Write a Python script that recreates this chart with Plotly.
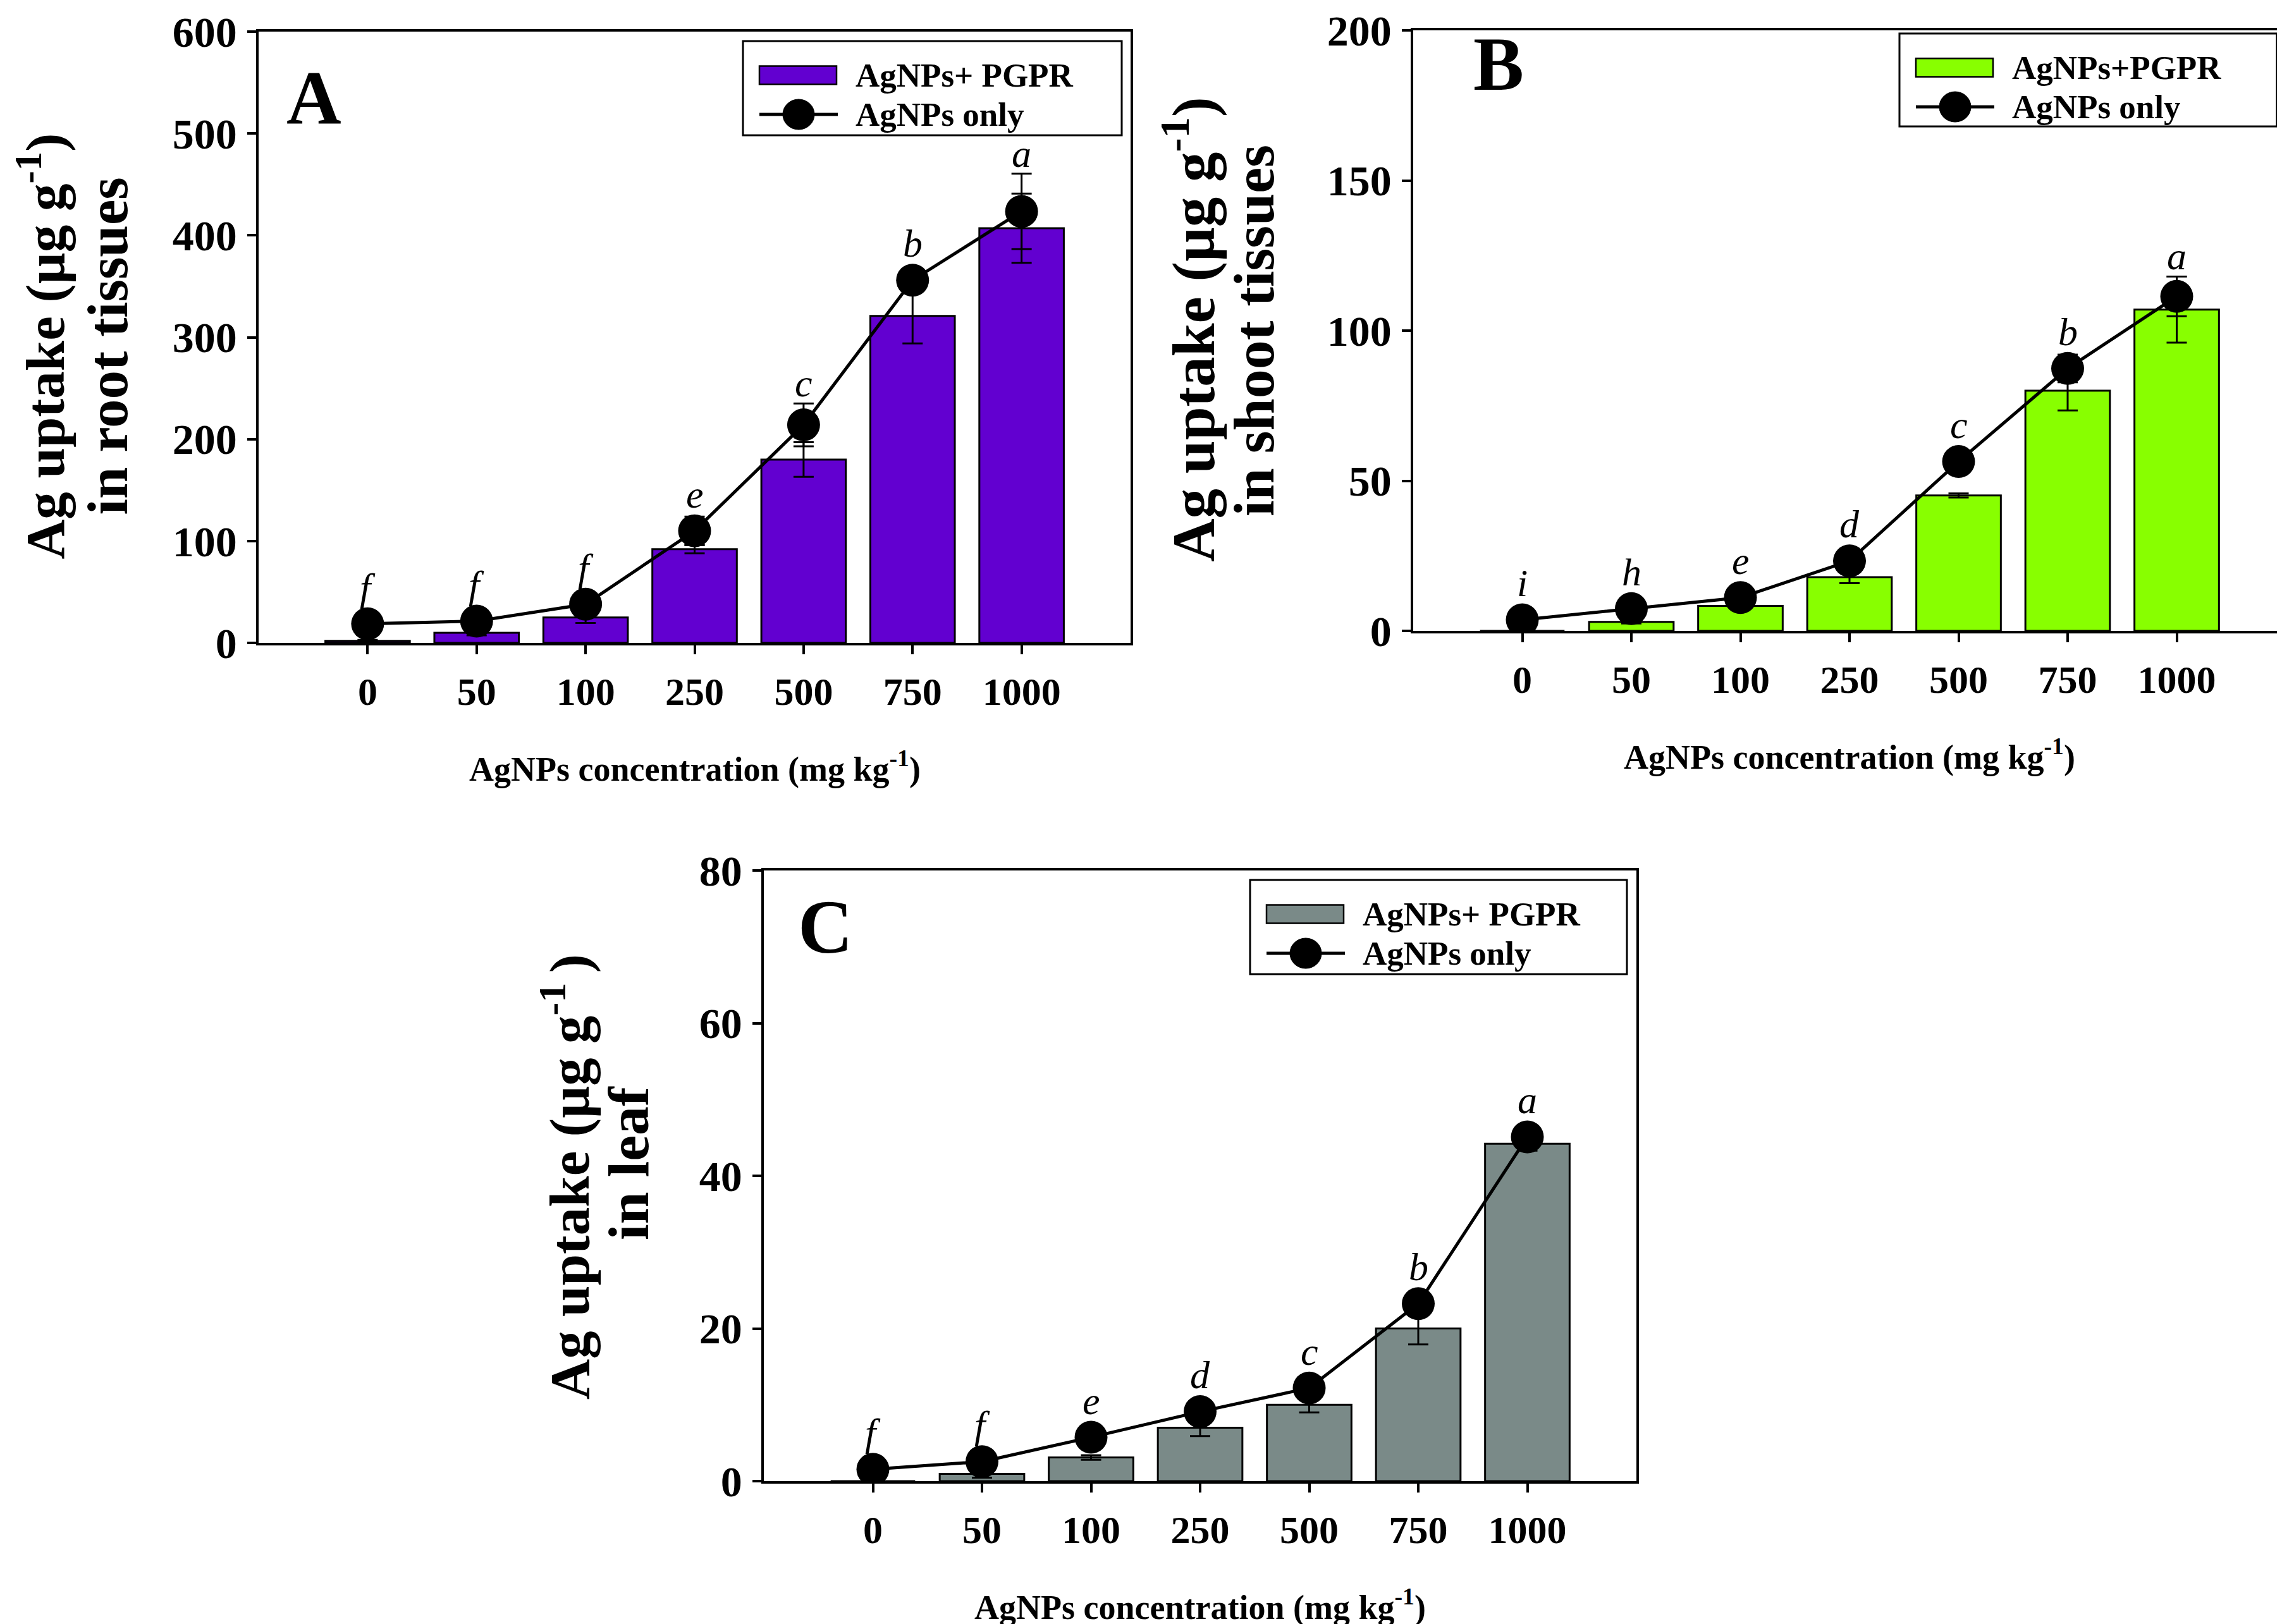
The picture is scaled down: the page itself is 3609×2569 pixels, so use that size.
import plotly.graph_objects as go

# ---------------- data ----------------
categories = ["0", "50", "100", "250", "500", "750", "1000"]

root_pgpr = [2, 10, 25, 92, 180, 321, 407]
root_pgpr_err = [1, 2.5, 5.4, 4, 17, 27, 34]
root_only = [18.7, 21.4, 38, 110, 214, 356, 423.5]
root_only_err = [3, 4, 6, 14, 21, 10, 37]
root_letters = ["f", "f", "f", "e", "c", "b", "a"]

shoot_pgpr = [0, 3.0, 8.3, 17.9, 45.1, 80, 107]
shoot_pgpr_err = [0, 0.5, 0.4, 2.0, 0.7, 6.6, 11]
shoot_only = [3.7, 7.4, 11.1, 23.3, 56.4, 87.4, 111.4]
shoot_only_err = [0.5, 0.8, 0.8, 1.0, 1.0, 4.6, 6.6]
shoot_letters = ["i", "h", "e", "d", "c", "b", "a"]

leaf_pgpr = [0, 0.95, 3.1, 7.0, 10.0, 20.0, 44.2]
leaf_pgpr_err = [0, 0.5, 0.3, 1.1, 1.0, 2.1, 0.9]
leaf_only = [1.55, 2.55, 5.75, 9.1, 12.2, 23.25, 45.1]
leaf_only_err = [0.3, 0.3, 0.3, 0.4, 0.5, 0.6, 0.6]
leaf_letters = ["f", "f", "e", "d", "c", "b", "a"]

bar_names = ["AgNPs+ PGPR", "AgNPs+PGPR", "AgNPs+ PGPR"]
line_name = "AgNPs only"
y_title_1 = ["Ag uptake (µg g<sup>-1</sup>)", "Ag uptake (µg g<sup>-1</sup>)", "Ag uptake (µg g<sup>-1 </sup>)"]
y_title_2 = ["in root tissues", "in shoot tissues", "in leaf"]
x_title = "AgNPs concentration (mg kg<sup>-1</sup>)"
panel_labels = ["A", "B", "C"]
y_max = [600, 200, 80]
y_dtick = [100, 50, 20]
colors = ["#6200D0", "#88FF00", "#7A8A88"]

# category positions on a numeric axis (index of each category)
xpos = list(range(len(categories)))

# ---------------- layout geometry (pixels) ----------------
W, H = 3609, 2569
FONT = "Liberation Serif, Times New Roman, serif"


def px_x(p):
    return p / W


def px_y(p):
    return 1 - p / H


panels = [
    dict(left=401, right=1780, top=42, bottom=1009,
         ytitle_off=(344, 239), ytitle_fs=(87, 91), ytitle_dy=(14, 14),
         letter_pos=(489, 146), legend=(1167, 57, 1766, 206)),
    dict(left=2227, right=3607, top=40, bottom=990,
         ytitle_off=(354, 252), ytitle_fs=(95, 92), ytitle_dy=(-2, 0),
         letter_pos=(2362, 93), legend=(2996, 45, 3593, 192)),
    dict(left=1200, right=2580, top=1369, bottom=2335,
         ytitle_off=(314, 214), ytitle_fs=(89, 92), ytitle_dy=(2, -20),
         letter_pos=(1297, 1458), legend=(1969, 1384, 2565, 1533)),
]

series = [
    (root_pgpr, root_pgpr_err, root_only, root_only_err, root_letters),
    (shoot_pgpr, shoot_pgpr_err, shoot_only, shoot_only_err, shoot_letters),
    (leaf_pgpr, leaf_pgpr_err, leaf_only, leaf_only_err, leaf_letters),
]

fig = go.Figure()
annotations = []
shapes = []

for i, (pan, (bv, be, lv, le, letters)) in enumerate(zip(panels, series)):
    suffix = "" if i == 0 else str(i + 1)
    xa, ya = "x" + suffix, "y" + suffix

    fig.add_trace(go.Bar(
        x=xpos, y=bv, xaxis=xa, yaxis=ya, name=bar_names[i],
        width=0.775,
        marker=dict(color=colors[i], line=dict(color="black", width=3)),
        error_y=dict(type="data", array=be, visible=True, color="black",
                     thickness=3, width=16),
        showlegend=False,
    ))
    fig.add_trace(go.Scatter(
        x=xpos, y=lv, xaxis=xa, yaxis=ya, name=line_name,
        mode="lines+markers",
        line=dict(color="black", width=5),
        marker=dict(color="black", size=52, symbol="circle"),
        error_y=dict(type="data", array=le, visible=True, color="black",
                     thickness=3, width=16),
        showlegend=False,
    ))

    axis_common = dict(
        showline=True, linecolor="black", linewidth=3.5, mirror=True,
        ticks="outside", tickcolor="black", tickwidth=3.5, ticklen=14,
        showgrid=False, zeroline=False, automargin=False,
        ticklabeloverflow="allow",
    )
    fig.layout["xaxis" + suffix] = dict(
        axis_common,
        domain=[px_x(pan["left"]), px_x(pan["right"])],
        anchor=ya, range=[-1, 7],
        tickmode="array", tickvals=xpos, ticktext=categories,
        tickfont=dict(family=FONT, size=62, color="black", weight="bold"),
        ticklabelstandoff=6,
    )
    fig.layout["yaxis" + suffix] = dict(
        axis_common,
        domain=[px_y(pan["bottom"]), px_y(pan["top"])],
        anchor=xa, range=[0, y_max[i]], dtick=y_dtick[i], tick0=0,
        tickfont=dict(family=FONT, size=68, color="black", weight="bold"),
        ticklabelstandoff=3,
    )

    plot_h = pan["bottom"] - pan["top"]
    ppu = plot_h / y_max[i]
    cx = (pan["left"] + pan["right"]) / 2
    cy = (pan["top"] + pan["bottom"]) / 2

    # significance letters
    for xp, v, e, t in zip(xpos, lv, le, letters):
        annotations.append(dict(
            x=xp, y=v, xref=xa, yref=ya, text="<i>%s</i>" % t, showarrow=False,
            xanchor="center", yanchor="bottom", yshift=max(e * ppu, 26) - 4,
            font=dict(family=FONT, size=62, color="black"),
        ))

    # y-axis titles (two lines)
    for off, txt, fs, dy in zip(pan["ytitle_off"], (y_title_1[i], y_title_2[i]),
                                pan["ytitle_fs"], pan["ytitle_dy"]):
        annotations.append(dict(
            x=px_x(pan["left"] - off), y=px_y(cy + dy), xref="paper", yref="paper",
            text=txt, textangle=-90, showarrow=False, xanchor="center", yanchor="middle",
            font=dict(family=FONT, size=fs, color="black", weight="bold"),
        ))

    # x-axis title
    annotations.append(dict(
        x=px_x(cx), y=px_y(pan["bottom"] + 195), xref="paper", yref="paper",
        text=x_title, showarrow=False, xanchor="center", yanchor="middle",
        font=dict(family=FONT, size=54, color="black", weight="bold"),
    ))

    # panel letter
    lx, ly = pan["letter_pos"]
    annotations.append(dict(
        x=px_x(lx), y=px_y(ly), xref="paper", yref="paper", text=panel_labels[i],
        showarrow=False, xanchor="center", yanchor="middle",
        font=dict(family=FONT, size=120, color="black", weight="bold"),
    ))

    # legend box
    L, T, R, B = pan["legend"]
    shapes.append(dict(type="rect", xref="paper", yref="paper",
                       x0=px_x(L), x1=px_x(R), y0=px_y(B), y1=px_y(T),
                       line=dict(color="black", width=3), fillcolor="white", layer="above"))
    r1, r2 = T + 54, T + 116
    shapes.append(dict(type="rect", xref="paper", yref="paper",
                       x0=px_x(L + 26), x1=px_x(L + 148), y0=px_y(r1 + 14.5), y1=px_y(r1 - 14.5),
                       line=dict(color="black", width=2.5), fillcolor=colors[i], layer="above"))
    shapes.append(dict(type="line", xref="paper", yref="paper",
                       x0=px_x(L + 26), x1=px_x(L + 150), y0=px_y(r2), y1=px_y(r2),
                       line=dict(color="black", width=5), layer="above"))
    shapes.append(dict(type="circle", xref="paper", yref="paper",
                       x0=px_x(L + 88 - 25), x1=px_x(L + 88 + 25),
                       y0=px_y(r2 + 24), y1=px_y(r2 - 24),
                       line=dict(color="black", width=1), fillcolor="black", layer="above"))
    for ry, txt in ((r1, bar_names[i]), (r2, line_name)):
        annotations.append(dict(
            x=px_x(L + 176), y=px_y(ry), xref="paper", yref="paper", text=txt,
            showarrow=False, xanchor="left", yanchor="middle",
            font=dict(family=FONT, size=53, color="black", weight="bold"),
        ))

fig.update_layout(
    width=W, height=H,
    margin=dict(l=0, r=0, t=0, b=0, autoexpand=False),
    paper_bgcolor="white", plot_bgcolor="white",
    showlegend=False,
    annotations=annotations,
    shapes=shapes,
    font=dict(family=FONT, color="black"),
)

fig.write_html("out.html")
